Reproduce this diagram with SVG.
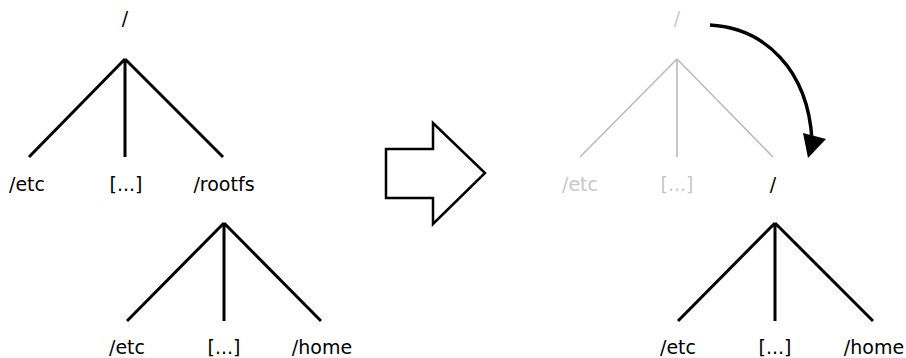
<svg xmlns="http://www.w3.org/2000/svg" width="906" height="358" viewBox="0 0 906 358">
<style>
text{font-family:"DejaVu Sans",sans-serif;font-size:19px;text-anchor:middle;fill:#000}
.faded{fill:#c8c8c8}
.edge{stroke:#000;stroke-width:3;fill:none;stroke-linecap:butt}
.fedge{stroke:#bbb;stroke-width:1.6;fill:none}
</style>
<defs>
<marker id="ah" markerWidth="10" markerHeight="10" refX="5" refY="5" orient="auto" markerUnits="userSpaceOnUse" viewBox="0 0 10 10"><path d="M0,0 L10,5 L0,10 Z" fill="#000"/></marker>
</defs>
<g id="connectors">
<path class="edge" d="M125,59 L29,157 M125,59 L125,157 M125,59 L223,157"/>
<path class="edge" d="M224,223 L127,321 M224,223 L224,321 M224,223 L321,321"/>
<path class="fedge" d="M677,59 L580,157 M677,59 L677,157 M677,59 L773,157"/>
<path class="edge" d="M775,223 L678,321 M775,223 L775,321 M775,223 L873,321"/>
<path d="M710,25 C765,28 808,70 812,140" stroke="#000" stroke-width="3.5" fill="none"/>
<path d="M803,133 L826,139 L808,158 Z" fill="#000"/>
<path d="M386,149 L433,149 L433,123 L485,173 L433,224 L433,198 L386,198 Z" fill="#fff" stroke="#000" stroke-width="2.5"/>
</g>
<g id="n-root-left"><text x="125" y="25">/</text></g>
<g id="n-etc-left"><text x="27" y="191">/etc</text></g>
<g id="n-dots-left"><text x="126" y="191">[...]</text></g>
<g id="n-rootfs"><text x="224" y="191">/rootfs</text></g>
<g id="n-etc-left2"><text x="127" y="354">/etc</text></g>
<g id="n-dots-left2"><text x="224" y="354">[...]</text></g>
<g id="n-home-left"><text x="322" y="354">/home</text></g>
<g id="n-root-right-old"><text class="faded" x="677" y="25">/</text></g>
<g id="n-etc-right-old"><text class="faded" x="580" y="191">/etc</text></g>
<g id="n-dots-right-old"><text class="faded" x="677" y="191">[...]</text></g>
<g id="n-root-right-new"><text x="773" y="191">/</text></g>
<g id="n-etc-right2"><text x="678" y="354">/etc</text></g>
<g id="n-dots-right2"><text x="775" y="354">[...]</text></g>
<g id="n-home-right"><text x="874" y="354">/home</text></g>
</svg>
